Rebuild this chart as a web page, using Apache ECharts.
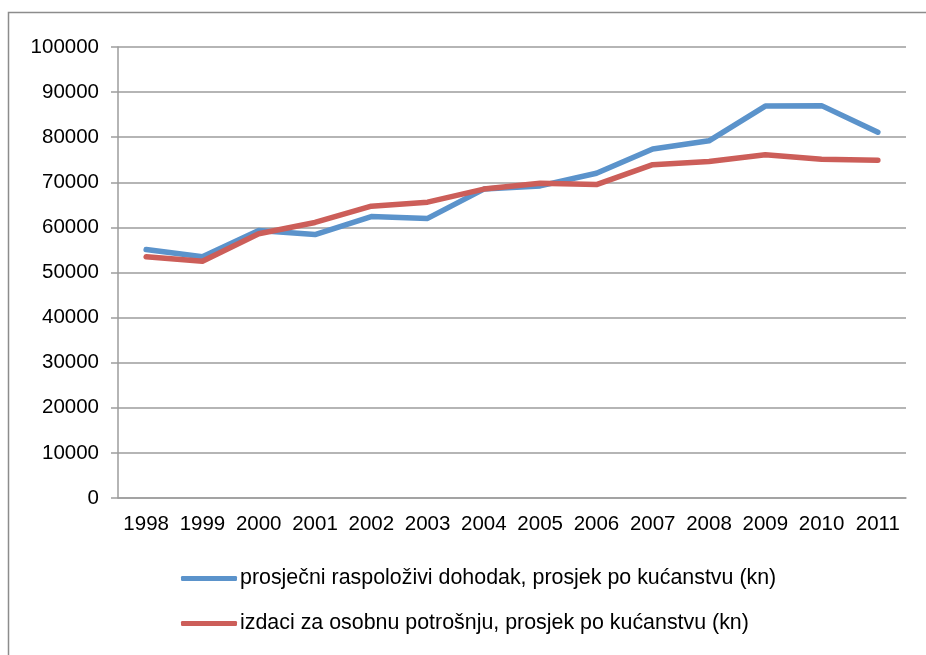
<!DOCTYPE html>
<html>
<head>
<meta charset="utf-8">
<script src="https://cdn.jsdelivr.net/npm/echarts@6/dist/echarts.min.js"></script>
<style>
    html, body { margin: 0; padding: 0; background: #fff; }
    #chart { width: 926px; height: 655px; }
</style>
</head>
<body>
<div id="chart"></div>
<script>
(function () {

    var YEARS = ['1998', '1999', '2000', '2001', '2002', '2003', '2004',
                 '2005', '2006', '2007', '2008', '2009', '2010', '2011'];

    var INCOME = [55100, 53500, 59300, 58400, 62400, 62000, 68500,
                  69200, 72000, 77400, 79200, 86900, 87000, 81100];

    var SPENDING = [53500, 52500, 58600, 61100, 64700, 65600, 68500,
                    69800, 69500, 73900, 74600, 76100, 75100, 74900];

    var NAMES = ['prosječni raspoloživi dohodak, prosjek po kućanstvu (kn)',
                 'izdaci za osobnu potrošnju, prosjek po kućanstvu (kn)'];

    var FONT = '"Liberation Sans", Arial, sans-serif';
    var SIZE = 20.5;
    var GRAY = '#9d9d9d';

    var chart = echarts.init(document.getElementById('chart'));

    //
    function lineSeries(name, data, color) {
        return {
            name: name,
            type: 'line',
            data: data,
            symbol: 'none',
            color: color,
            lineStyle: { width: 5.5, color: color, cap: 'round', join: 'round' }
        };
    }

    chart.setOption({
        animation: false,
        graphic: [{
            type: 'rect',
            shape: { x: 8.5, y: 12.5, width: 1000, height: 1000 },
            style: { fill: null, stroke: '#8c8c8c', lineWidth: 1.5 }
        }],
        grid: { left: 118, right: 20, top: 47, bottom: 157 },
        legend: {
            orient: 'vertical',
            left: 176,
            top: 563,
            itemWidth: 56,
            itemHeight: 5,
            itemGap: 24,
            icon: 'roundRect',
            textStyle: { fontFamily: FONT, fontSize: 21.4, color: '#000', padding: [0, 0, 0, -2] },
            data: NAMES
        },
        xAxis: {
            type: 'category',
            data: YEARS,
            boundaryGap: true,
            axisLine: { lineStyle: { color: GRAY, width: 1.5 } },
            axisTick: { length: 7, lineStyle: { color: GRAY, width: 1.5 } },
            axisLabel: { fontFamily: FONT, fontSize: SIZE, color: '#000', margin: 16, interval: 0 }
        },
        yAxis: {
            type: 'value',
            min: 0,
            max: 100000,
            interval: 10000,
            axisLine: { show: true, lineStyle: { color: GRAY, width: 1.5 } },
            axisTick: { show: true, length: 7, lineStyle: { color: GRAY, width: 1.5 } },
            axisLabel: {
                fontFamily: FONT, fontSize: SIZE, color: '#000', margin: 19,
                formatter: function (v) { return String(v); }
            },
            splitLine: { lineStyle: { color: GRAY, width: 1.5 } }
        },
        series: [
            lineSeries(NAMES[0], INCOME, '#5b93cb'),
            lineSeries(NAMES[1], SPENDING, '#cc5e59')
        ]
    });

}());
</script>
</body>
</html>
